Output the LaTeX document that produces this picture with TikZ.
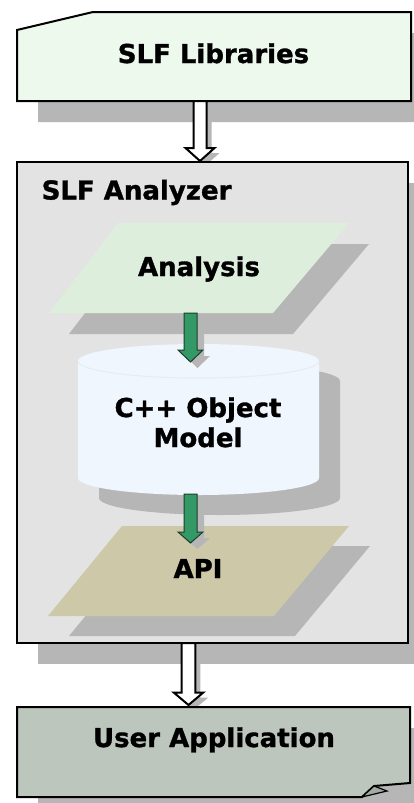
\documentclass[tikz,border=0pt]{standalone}
\usepackage{fontspec}
\setmainfont{DejaVu Sans}
\newfontfamily\heavyfont{DejaVu Sans Bold}[FakeBold=1.2]
\usetikzlibrary{calc}
\definecolor{libfill}{HTML}{EDF9ED}
\definecolor{anzfill}{HTML}{E3E3E3}
\definecolor{anafill}{HTML}{DDEEDD}
\definecolor{cylfill}{HTML}{EFF6FD}
\definecolor{cylrim}{HTML}{E4ECF4}
\definecolor{apifill}{HTML}{CCC8A8}
\definecolor{appfill}{HTML}{BCC6BC}
\definecolor{flapfill}{HTML}{A2AAA2}
\definecolor{shadowgray}{HTML}{B6B6B6}
\definecolor{arrowgreen}{HTML}{339966}
\definecolor{arrowedge}{HTML}{1F3D2B}
\tikzset{
  box/.style={draw=black, line width=2pt, line join=miter},
  shadowfill/.style={fill=shadowgray},
  labeltext/.style={font=\fontsize{26}{30}\selectfont\heavyfont, inner sep=0pt, text=black},
  whitearrow/.style={fill=white, draw=black, line width=2pt, line join=miter},
  greenarrow/.style={fill=arrowgreen, draw=arrowedge, line width=1pt, line join=miter},
}
% start, end, shaft half, head half, head length, style, dx, dy (screen px)
\newcommand\blockarr[8]{%
  \path[#6] let \p1=(#1), \p2=(#2) in
    (\x1-#3+#7,\y1-#8) -- (\x1+#3+#7,\y1-#8) -- (\x1+#3+#7,\y2+#5-#8)
    -- (\x1+#4+#7,\y2+#5-#8) -- (\x1+#7,\y2-#8) -- (\x1-#4+#7,\y2+#5-#8)
    -- (\x1-#3+#7,\y2+#5-#8) -- cycle;}
\begin{document}
\begin{tikzpicture}[x=1pt,y=-1pt]
\useasboundingbox (0,0) rectangle (414,803);
\clip (0,0) rectangle (414,803);
\fill[white] (0,0) rectangle (414,803);

% connector end points
\coordinate (w1s) at (200,101);
\coordinate (w1e) at (200,161);
\coordinate (g1s) at (190.5,313);
\coordinate (g1e) at (190.5,362);
\coordinate (g2s) at (190.5,494);
\coordinate (g2e) at (190.5,543);
\coordinate (w2s) at (188.5,643);
\coordinate (w2e) at (188.5,705);

% box shadows
\fill[shadowfill] (38,51) -- (114,33) -- (432,33) -- (432,122) -- (38,122) -- cycle;
\fill[shadowfill] (38,183) rectangle (429,664);
\fill[shadowfill] (38,728) rectangle (431,818);
\blockarr{w1s}{w1e}{6.5}{14.5}{13}{shadowfill}{5}{5}
\blockarr{w2s}{w2e}{6.8}{14.8}{12.5}{shadowfill}{5}{5}

% SLF Libraries
\draw[box, fill=libfill] (17,30) -- (93,12) -- (411,12) -- (411,101) -- (17,101) -- cycle;
\node[labeltext, anchor=base] (lib) at (213.5,63) {SLF Libraries};

% SLF Analyzer
\draw[box, fill=anzfill] (17,162) rectangle (408,643);
\node[labeltext, anchor=base west] (analyzer) at (41.5,199.5) {SLF Analyzer};

% Analysis
\fill[shadowfill] (138,244) -- (369,244) -- (293,334) -- (69,334) -- cycle;
\fill[anafill] (118,223) -- (349,223) -- (273,313) -- (49,313) -- cycle;
\node[labeltext, anchor=base] (analysis) at (199,276) {Analysis};

% C++ Object Model (cylinder)
\fill[shadowfill] (99,381) arc[start angle=180, end angle=360, x radius=120.5, y radius=17]
  -- (340,498) arc[start angle=0, end angle=180, x radius=120.5, y radius=17] -- cycle;
\fill[cylfill] (78,361) arc[start angle=180, end angle=360, x radius=120.5, y radius=17]
  -- (319,478) arc[start angle=0, end angle=180, x radius=120.5, y radius=17] -- cycle;
\draw[cylrim, line width=1pt] (78,361) arc[start angle=180, end angle=0, x radius=120.5, y radius=17];
\node[labeltext, align=center, anchor=base] (model) at (198,447) {C++ Object\\Model};

% API
\fill[shadowfill] (143,546) -- (370,546) -- (295,636) -- (69,636) -- cycle;
\fill[apifill] (122,526) -- (349,526) -- (274,616) -- (48,616) -- cycle;
\node[labeltext, anchor=base] (api) at (198,578) {API};

% green arrows
\blockarr{g1s}{g1e}{6.5}{12.5}{12}{shadowfill}{7}{6}
\blockarr{g1s}{g1e}{6.5}{12.5}{12}{greenarrow}{0}{0}
\blockarr{g2s}{g2e}{6.5}{12.5}{11}{shadowfill}{7}{6}
\blockarr{g2s}{g2e}{6.5}{12.5}{11}{greenarrow}{0}{0}

% User Application
\draw[box, fill=appfill] (17,707) -- (410,707) -- (410,783) -- (374,786) -- (362,797) -- (17,797) -- cycle;
\draw[fill=flapfill, line width=1.2pt, line join=miter] (362,797) -- (374,786) -- (387,791) -- cycle;
\node[labeltext, anchor=base] (app) at (214,747) {User Application};

% white arrows
\blockarr{w1s}{w1e}{6.5}{14.5}{13}{whitearrow}{0}{0}
\blockarr{w2s}{w2e}{6.8}{14.8}{12.5}{whitearrow}{0}{0}
\end{tikzpicture}
\end{document}
